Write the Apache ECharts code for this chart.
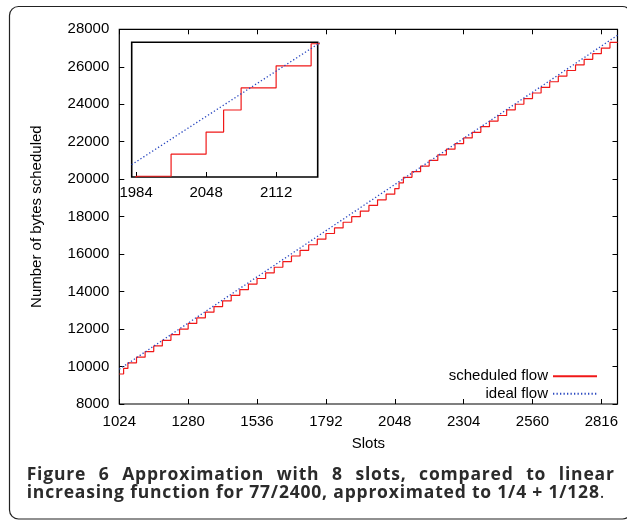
<!DOCTYPE html>
<html>
<head>
<meta charset="utf-8">
<script src="https://cdn.jsdelivr.net/npm/echarts@6/dist/echarts.min.js"></script>
<style>
  html, body { margin: 0; padding: 0; background: #fff; }
  #wrap { position: relative; width: 627px; height: 522px; overflow: hidden; }
  #chart { position: absolute; left: 0; top: 0; width: 627px; height: 522px; }
  .cap { position: absolute; left: 26.7px; font-family: "Open Sans", sans-serif; font-weight: bold;
         font-size: 17.5px; line-height: 18px; color: #2b2b2b; white-space: nowrap; letter-spacing: 0.8px; }
  #cap1 { top: 463.5px; width: 588px; text-align: justify; text-align-last: justify; white-space: normal; }
  #cap2 { top: 481.8px; }
</style>
</head>
<body>
<div id="wrap">
  <div id="chart"></div>
  <div class="cap" id="cap1">Figure 6 Approximation with 8 slots, compared to linear</div>
  <div class="cap" id="cap2">increasing function for 77/2400, approximated to 1/4 + 1/128<span style="font-weight:normal">.</span></div>
</div>
<script>
// ---- data ----
const stepSlots = [1024, 1040, 1056, 1088, 1120, 1152, 1184, 1216, 1248, 1280, 1312, 1344, 1376, 1408, 1440, 1472,
  1504, 1536, 1568, 1600, 1632, 1664, 1696, 1728, 1760, 1792, 1824, 1856, 1888, 1920, 1952, 1984, 2016, 2048,
  2064, 2080, 2112, 2144, 2176, 2208, 2240, 2272, 2304, 2336, 2368, 2400, 2432, 2464, 2496, 2528, 2560, 2592,
  2624, 2656, 2688, 2720, 2752, 2784, 2816, 2848, 2876];
const scheduledBytes = [9600, 9900, 10200, 10500, 10800, 11100, 11400, 11700, 12000, 12300, 12600, 12900, 13200,
  13500, 13800, 14100, 14400, 14700, 15000, 15300, 15600, 15900, 16200, 16500, 16800, 17100, 17400, 17700, 18000,
  18300, 18600, 18900, 19200, 19500, 19800, 20100, 20400, 20700, 21000, 21300, 21600, 21900, 22200, 22500, 22800,
  23100, 23400, 23700, 24000, 24300, 24600, 24900, 25200, 25500, 25800, 26100, 26400, 26700, 27000, 27300, 27300];
const idealSlots = [1024, 2876];
const idealBytes = [9856, 27682];
const xTicks = [1024, 1280, 1536, 1792, 2048, 2304, 2560, 2816];
const insetXTicks = [1984, 2048, 2112];
const seriesNames = ['scheduled flow', 'ideal flow'];

const FONT = 'Liberation Sans';
const RED = '#f01818';
const BLUE = '#2a48c0';

const scheduledPairs = stepSlots.map((x, i) => [x, scheduledBytes[i]]);
const idealPairs = idealSlots.map((x, i) => [x, idealBytes[i]]);

const chart = echarts.init(document.getElementById('chart'), null, { renderer: 'canvas' });
const lbl = { fontFamily: FONT, fontSize: 15, color: '#000' };
const noFmt = v => String(v);

chart.setOption({
  animation: false,
  backgroundColor: '#fff',
  graphic: [{
    type: 'rect', silent: true,
    shape: { x: 9.5, y: 6.5, width: 622, height: 512.5, r: 9 },
    style: { fill: 'none', stroke: '#222', lineWidth: 1.2 }
  }],
  grid: [
    { left: 119.3, top: 29.3, width: 498.2, height: 374.7, show: true, borderColor: '#000', borderWidth: 1.2, backgroundColor: 'transparent' },
    { left: 131.7, top: 42.3, width: 186, height: 134.7, show: true, borderColor: '#000', borderWidth: 1.6, backgroundColor: '#fff' }
  ],
  xAxis: [
    { type: 'value', gridIndex: 0, min: 1024, max: 2876, position: 'bottom',
      name: 'Slots', nameLocation: 'middle', nameGap: 32, nameTextStyle: lbl,
      axisLine: { show: false }, splitLine: { show: false },
      axisTick: { inside: true, length: 5, customValues: xTicks, lineStyle: { color: '#000' } },
      axisLabel: Object.assign({ margin: 10, customValues: xTicks, formatter: noFmt }, lbl) },
    { type: 'value', gridIndex: 0, min: 1024, max: 2876, position: 'top',
      axisLine: { show: false }, splitLine: { show: false },
      axisTick: { inside: true, length: 5, customValues: xTicks, lineStyle: { color: '#000' } },
      axisLabel: { show: false } },
    { type: 'value', gridIndex: 1, min: 1980, max: 2150, position: 'bottom',
      axisLine: { show: false }, splitLine: { show: false },
      axisTick: { inside: true, length: 5, customValues: insetXTicks, lineStyle: { color: '#000' } },
      axisLabel: Object.assign({ margin: 8, customValues: insetXTicks, formatter: noFmt }, lbl) }
  ],
  yAxis: [
    { type: 'value', gridIndex: 0, min: 8000, max: 28000, interval: 2000, position: 'left',
      name: 'Number of bytes scheduled', nameLocation: 'middle', nameGap: 75, nameRotate: 90, nameTextStyle: lbl,
      axisLine: { show: false }, splitLine: { show: false },
      axisTick: { inside: true, length: 5, lineStyle: { color: '#000' } },
      axisLabel: Object.assign({ margin: 10, formatter: noFmt }, lbl) },
    { type: 'value', gridIndex: 0, min: 8000, max: 28000, interval: 2000, position: 'right',
      axisLine: { show: false }, splitLine: { show: false },
      axisTick: { inside: true, length: 5, lineStyle: { color: '#000' } },
      axisLabel: { show: false } },
    { type: 'value', gridIndex: 1, min: 18890, max: 20720,
      axisLine: { show: false }, splitLine: { show: false },
      axisTick: { show: false }, axisLabel: { show: false } }
  ],
  legend: {
    data: seriesNames, right: 29, top: 368.7, orient: 'vertical', align: 'right',
    itemWidth: 44, itemHeight: 14, itemGap: 2.6, padding: 0, selectedMode: false,
    itemStyle: { opacity: 0, borderWidth: 0 },
    textStyle: lbl
  },
  series: [
    { name: seriesNames[0], type: 'line', xAxisIndex: 0, yAxisIndex: 0, step: 'end', symbol: 'none',
      data: scheduledPairs, lineStyle: { color: RED, width: 1.2 }, itemStyle: { color: RED }, z: 3 },
    { name: seriesNames[1], type: 'line', xAxisIndex: 0, yAxisIndex: 0, symbol: 'none',
      data: idealPairs, lineStyle: { color: BLUE, width: 1.3, type: [1.3, 2.2] }, itemStyle: { color: BLUE }, z: 4 },
    { name: seriesNames[0], type: 'line', xAxisIndex: 2, yAxisIndex: 2, step: 'end', symbol: 'none', clip: true,
      data: scheduledPairs, lineStyle: { color: RED, width: 1.2 }, itemStyle: { color: RED }, z: 5 },
    { name: seriesNames[1], type: 'line', xAxisIndex: 2, yAxisIndex: 2, symbol: 'none', clip: true,
      data: idealPairs, lineStyle: { color: BLUE, width: 1.3, type: [1.3, 2.2] }, itemStyle: { color: BLUE }, z: 6 }
  ]
});
</script>
</body>
</html>
